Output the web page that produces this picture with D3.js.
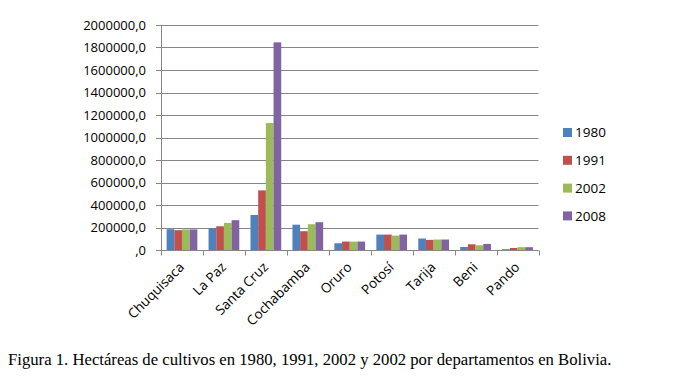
<!DOCTYPE html>
<html>
<head>
  <meta charset="UTF-8" />
  <title>Hectáreas de cultivos por departamento</title>
  <style>
    body { margin: 0; background: #fff; }
    svg { display: block; }
    .tick-lbl { font-family: "Open Sans", sans-serif; font-size: 13px; fill: #000; }
    .cat-lbl { font-family: "Open Sans", sans-serif; font-size: 13.5px; fill: #000; }
    .leg-lbl { font-family: "Open Sans", sans-serif; font-size: 13.5px; fill: #000; }
    .caption { font-family: "Liberation Serif", "Times New Roman", serif; font-size: 16.7px; fill: #000; }
  </style>
</head>
<body>
<svg id="chart" width="682" height="379"></svg>
<script src="https://d3js.org/d3.v7.min.js"></script>
<script>
  // departamentos
  const categories = ["Chuquisaca", "La Paz", "Santa Cruz", "Cochabamba", "Oruro", "Potosí", "Tarija", "Beni", "Pando"];
  const years = ["1980", "1991", "2002", "2008"];

  // hectáreas
  const v1980 = [185000, 194000, 311000, 225000, 60000, 137000, 102000, 27000, 7000];
  const v1991 = [176000, 211000, 530000, 167000, 75000, 137000, 90000, 51000, 18000];
  const v2002 = [183000, 241000, 1129000, 229000, 75000, 128000, 93000, 42000, 25000];
  const v2008 = [183000, 265000, 1846000, 247000, 75000, 137000, 93000, 54000, 25000];

  const yTicks = [0, 200000, 400000, 600000, 800000, 1000000, 1200000, 1400000, 1600000, 1800000, 2000000];
  const colors = ["#4F81BD", "#C0504D", "#9BBB59", "#8064A2"];
  const caption = "Figura 1. Hectáreas de cultivos en 1980, 1991, 2002 y 2002 por departamentos en Bolivia.";

  const series = [v1980, v1991, v2002, v2008];
  const rows = categories.map((c, i) => ({
    cat: c,
    values: years.map((y, j) => ({ year: y, value: series[j][i] }))
  }));

  const svg = d3.select("#chart");
  const gridColor = "#868686";

  const x0 = d3.scaleBand().domain(categories).range([161, 538.5]).padding(0);
  const x1 = d3.scaleBand().domain(years).range([0, x0.bandwidth()]).paddingInner(0).paddingOuter(0.73);
  const y = d3.scaleLinear().domain([0, 2000000]).range([250, 25]);
  const color = d3.scaleOrdinal().domain(years).range(colors);

  // gridlines + y ticks
  svg.append("g").selectAll("line")
    .data(yTicks)
    .enter()
    .append("line")
    .attr("x1", 156).attr("x2", 538.5)
    .attr("y1", d => Math.round(y(d)) + 0.5)
    .attr("y2", d => Math.round(y(d)) + 0.5)
    .attr("stroke", gridColor).attr("stroke-width", 1);

  svg.append("g").selectAll("text")
    .data(yTicks)
    .enter()
    .append("text")
    .attr("class", "tick-lbl")
    .attr("x", 146)
    .attr("y", d => y(d))
    .attr("dy", "0.35em")
    .attr("text-anchor", "end")
    .text(d => d === 0 ? ",0" : d + ",0");

  // barras
  const groups = svg.append("g").selectAll("g")
    .data(rows)
    .enter()
    .append("g")
    .attr("transform", d => `translate(${x0(d.cat)},0)`);

  groups.selectAll("rect")
    .data(d => d.values)
    .enter()
    .append("rect")
    .attr("x", d => x1(d.year))
    .attr("y", d => y(d.value))
    .attr("width", x1.bandwidth())
    .attr("height", d => y(0) - y(d.value))
    .attr("fill", d => color(d.year));

  // ejes
  svg.append("line")
    .attr("x1", 161.5).attr("x2", 161.5).attr("y1", 25).attr("y2", 250.5)
    .attr("stroke", gridColor);
  svg.append("line")
    .attr("x1", 156).attr("x2", 538.5).attr("y1", 250.5).attr("y2", 250.5)
    .attr("stroke", gridColor);

  const bounds = categories.map(c => x0(c)).concat([x0.range()[1]]);
  svg.append("g").selectAll("line")
    .data(bounds)
    .enter()
    .append("line")
    .attr("x1", d => Math.round(d) + 0.5).attr("x2", d => Math.round(d) + 0.5)
    .attr("y1", 250.5).attr("y2", 255.5)
    .attr("stroke", gridColor);

  // etiquetas de categoría rotadas
  svg.append("g").selectAll("text")
    .data(categories)
    .enter()
    .append("text")
    .attr("class", "cat-lbl")
    .attr("text-anchor", "end")
    .attr("transform", d => `translate(${x0(d) + x0.bandwidth() / 2 + 3},268) rotate(-45)`)
    .text(d => d);

  // leyenda
  const legend = svg.append("g").selectAll("g")
    .data(years)
    .enter()
    .append("g")
    .attr("transform", (d, i) => `translate(563,${128 + i * 27.8})`);

  legend.append("rect")
    .attr("width", 9).attr("height", 9)
    .attr("fill", d => color(d));

  legend.append("text")
    .attr("class", "leg-lbl")
    .attr("x", 12).attr("y", 4.5)
    .attr("dy", "0.36em")
    .text(d => d);

  svg.append("text")
    .attr("class", "caption")
    .attr("x", 8).attr("y", 365)
    .text(caption);
</script>
</body>
</html>
